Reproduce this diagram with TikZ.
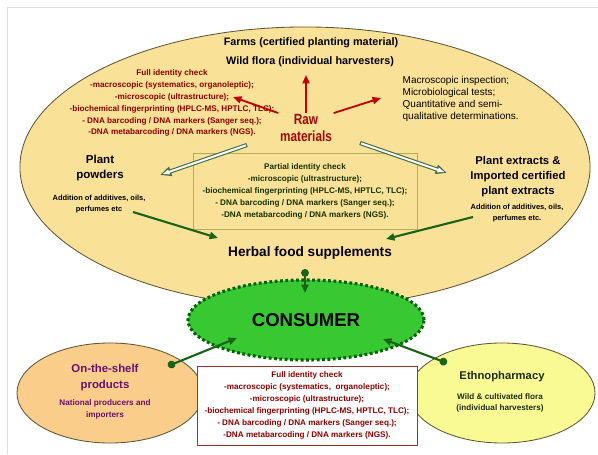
\documentclass[tikz,border=0pt]{standalone}
\usepackage{fontspec}
\setmainfont{Liberation Sans}
\newfontfamily\narrowsans[FakeStretch=0.8]{Liberation Sans}
\usetikzlibrary{arrows.meta}
\usetikzlibrary{shapes.geometric}

\newcommand\setfs[2]{\fontsize{#1}{#2}\selectfont}

\definecolor{ovalfill}{RGB}{250,225,152}
\definecolor{ovaledge}{RGB}{95,85,55}
\definecolor{redtext}{RGB}{140,0,0}
\definecolor{rawred}{RGB}{160,10,10}
\definecolor{redline}{RGB}{195,0,0}
\definecolor{greentext}{RGB}{20,50,0}
\definecolor{partialedge}{RGB}{175,175,90}
\definecolor{hollowedge}{RGB}{70,110,70}
\definecolor{arrowgreen}{RGB}{25,100,25}
\definecolor{consumerfill}{RGB}{55,200,50}
\definecolor{consumeredge}{RGB}{0,100,0}
\definecolor{shelffill}{RGB}{250,205,138}
\definecolor{shelftext}{RGB}{105,15,110}
\definecolor{ethnofill}{RGB}{250,250,148}
\definecolor{ethnotext}{RGB}{25,45,25}
\definecolor{redboxedge}{RGB}{160,50,50}

\tikzset{
  redtxt/.style={text=redtext, font=\bfseries\setfs{5.8pt}{8.5pt}, align=center, inner sep=1pt},
  greentxt/.style={text=greentext, font=\bfseries\setfs{5.8pt}{8.5pt}, align=center, inner sep=1pt},
  blacktitle/.style={font=\bfseries\setfs{7.7pt}{9pt}, inner sep=1pt},
  titletxt/.style={font=\bfseries\setfs{8.2pt}{11pt}, align=center, inner sep=1pt},
  smalltxt/.style={font=\bfseries\setfs{5.3pt}{7.8pt}, align=center, inner sep=1pt},
  redarrow/.style={draw=redline, line width=1.3pt, -{Triangle[length=6pt,width=5pt]}},
  greenarrow/.style={draw=arrowgreen, line width=1.5pt, -{Triangle[length=6pt,width=5pt]}},
  dotarrow/.style={greenarrow, {Circle[length=5.5pt]}-{Triangle[length=6pt,width=5pt]}},
  hollow/.style={draw=hollowedge, line width=3pt, -{Triangle[length=8pt,width=6.5pt]},
    postaction={draw=white, line width=1.4pt, -{Triangle[length=5pt,width=3.2pt]}, shorten >=1.8pt, shorten <=0.8pt}}
}

\begin{document}
\begin{tikzpicture}[x=0.025cm, y=-0.025cm]

\useasboundingbox (0,0) rectangle (598,454);
\draw[gray!25, line width=0.6pt] (7,454) -- (7,7) -- (598,7);

% the large field of raw materials
\node[ellipse, draw=ovaledge, fill=ovalfill, line width=0.6pt, minimum width=14.25cm, minimum height=7cm, inner sep=0] (field) at (305,167) {};

\node[blacktitle] (farms) at (311,43) {Farms (certified planting material)};
\node[blacktitle] (wild) at (310,62) {Wild flora (individual harvesters)};

\node[redtxt] (fullA) at (172,103) {Full identity check\\-macroscopic (systematics, organoleptic);\\-microscopic (ultrastructure);\\-biochemical fingerprinting (HPLC-MS, HPTLC, TLC);\\- DNA barcoding / DNA markers (Sanger seq.);\\-DNA metabarcoding / DNA markers (NGS).};

\node[text=rawred, font=\narrowsans\bfseries\setfs{10.5pt}{11.5pt}, align=center, inner sep=1pt] (raw) at (306,128) {Raw\\materials};

\node[font=\setfs{7.1pt}{8.5pt}, align=left, inner sep=1pt, anchor=west] (tests) at (401,99) {Macroscopic inspection;\\Microbiological tests;\\Quantitative and semi-\\qualitative determinations.};

\node[titletxt] (powders) at (100,168) {Plant\\powders};
\node[smalltxt] (powdAdd) at (99,204) {Addition of additives, oils,\\perfumes etc};

\node[greentxt, draw=partialedge, line width=0.5pt, minimum width=5.6cm, minimum height=1.9cm] (partial) at (305,191) {Partial identity check\\-microscopic (ultrastructure);\\-biochemical fingerprinting (HPLC-MS, HPTLC, TLC);\\- DNA barcoding / DNA markers (Sanger seq.);\\-DNA metabarcoding / DNA markers (NGS).};

\node[titletxt, font=\bfseries\setfs{8pt}{10.7pt}] (extracts) at (518,177) {Plant extracts \&\\Imported certified\\plant extracts};
\node[smalltxt] (extrAdd) at (517,213) {Addition of additives, oils,\\perfumes etc.};

\node[font=\bfseries\setfs{9.7pt}{11pt}, inner sep=1pt] (herbal) at (310,253) {Herbal food supplements};

% consumer and its sources
\node[ellipse, fill=consumerfill, draw=consumeredge, line width=2.2pt, dash pattern=on 2pt off 1.8pt, minimum width=5.9cm, minimum height=2cm, font=\bfseries\setfs{13.2pt}{14pt}] (consumer) at (306,320) {CONSUMER};

\node[ellipse, draw=ovaledge, fill=shelffill, line width=0.6pt, minimum width=4.65cm, minimum height=2.5cm, inner sep=0] (shelf) at (110,393) {};
\node[text=shelftext, font=\bfseries\setfs{8.1pt}{11.4pt}, align=center, inner sep=1pt] (shelfTitle) at (105,378) {On-the-shelf\\products};
\node[text=shelftext, font=\bfseries\setfs{5.8pt}{8.5pt}, align=center, inner sep=1pt] (shelfSub) at (105,409) {National producers and\\importers};

\node[ellipse, draw=ovaledge, fill=ethnofill, line width=0.6pt, minimum width=4.65cm, minimum height=2.5cm, inner sep=0] (ethno) at (502,393) {};
\node[text=ethnotext, font=\bfseries\setfs{8pt}{9pt}, inner sep=1pt] (ethnoTitle) at (502,377) {Ethnopharmacy};
\node[text=ethnotext, font=\bfseries\setfs{5.8pt}{7.8pt}, align=center, inner sep=1pt] (ethnoSub) at (500,403) {Wild \& cultivated flora\\(individual harvesters)};

\node[redtxt, draw=redboxedge, fill=white, line width=0.6pt, minimum width=5.5cm, minimum height=1.975cm] (fullB) at (307,405.5) {Full identity check\\-macroscopic (systematics,~ organoleptic);\\-microscopic (ultrastructure);\\-biochemical fingerprinting (HPLC-MS, HPTLC, TLC);\\- DNA barcoding / DNA markers (Sanger seq.);\\-DNA metabarcoding / DNA markers (NGS).};

% arrow ends
\coordinate (upTip) at (306,75);
\coordinate (leftTip) at (233,97);
\coordinate (rightTip) at (381,98);
\coordinate (rawLeft) at (247,145);
\coordinate (rawRight) at (360,143);
\coordinate (powdTip) at (160,175);
\coordinate (extrTip) at (447,173);
\coordinate (powdStart) at (133,212);
\coordinate (extrStart) at (473,217);
\coordinate (herbLeft) at (218,238);
\coordinate (herbRight) at (386,239);
\coordinate (herbDot) at (305,269);
\coordinate (consTop) at (305,293);
\coordinate (shelfDot) at (168,366);
\coordinate (consLeft) at (237,338);
\coordinate (ethnoDot) at (447,363);
\coordinate (consRight) at (383,339);

\draw[redarrow] (raw.north) -- (upTip);
\draw[redarrow] (raw.north west) -- (leftTip);
\draw[redarrow] (raw.north east) -- (rightTip);

\draw[hollow] (rawLeft) -- (powdTip);
\draw[hollow] (rawRight) -- (extrTip);

\draw[greenarrow] (powdStart) -- (herbLeft);
\draw[greenarrow] (extrStart) -- (herbRight);

\draw[dotarrow] (herbDot) -- (consTop);
\draw[dotarrow] (shelfDot) -- (consLeft);
\draw[dotarrow] (ethnoDot) -- (consRight);

\end{tikzpicture}
\end{document}
